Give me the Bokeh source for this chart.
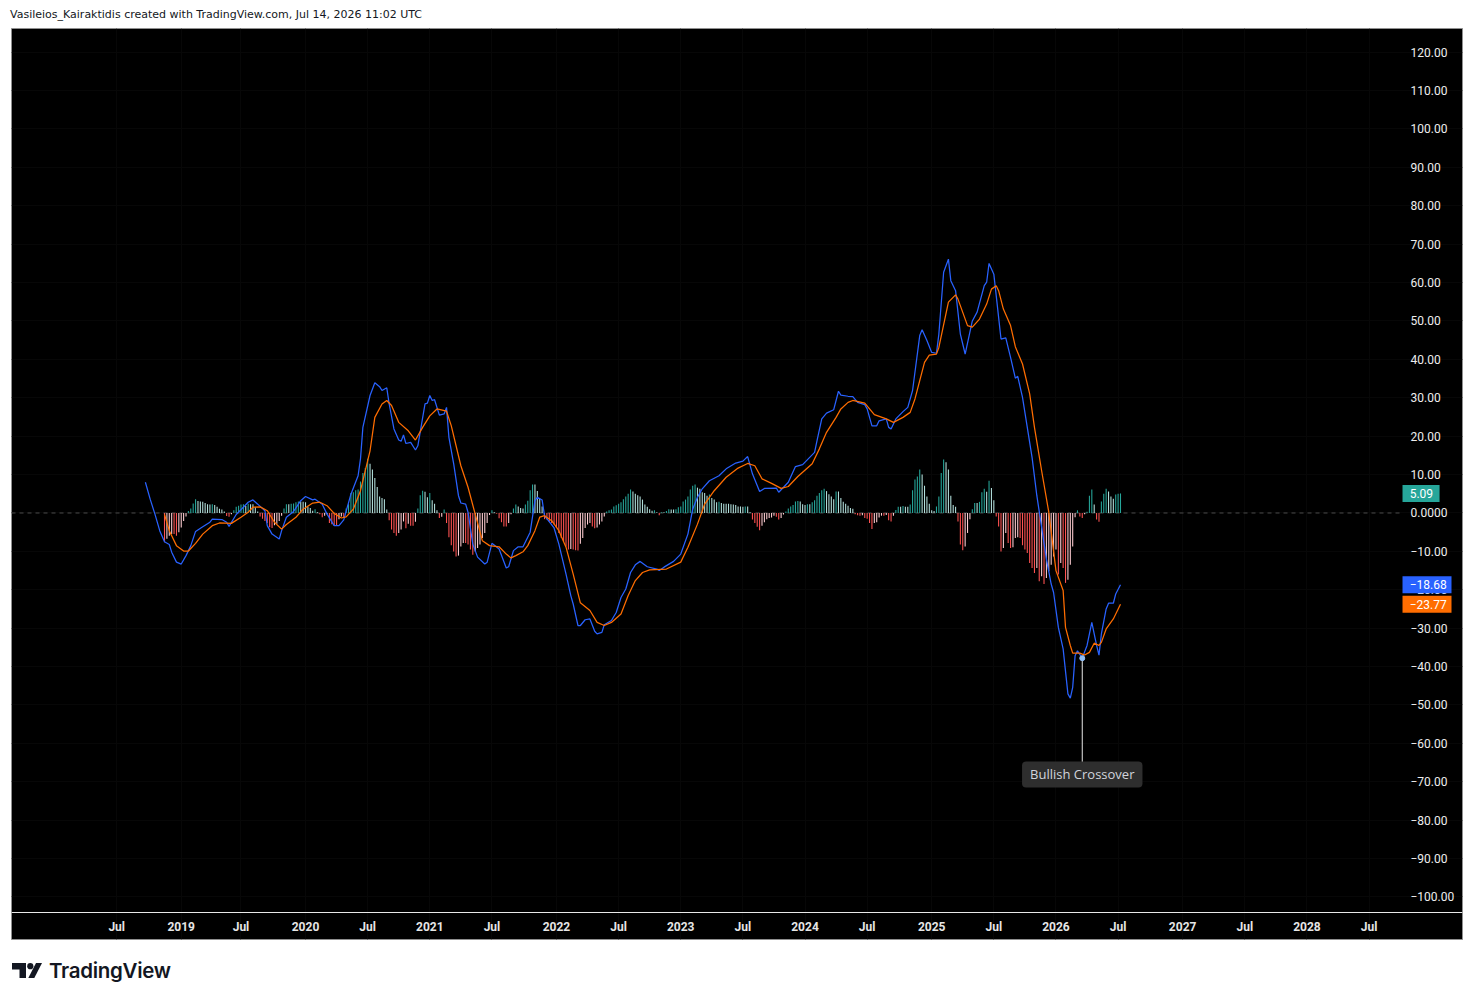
from bokeh.plotting import figure
from bokeh.embed import file_html
from bokeh.layouts import column
from bokeh.resources import INLINE
from bokeh.models import BoxAnnotation, Div, FixedTicker, Label, Range1d, Span

# weekly bars, week 0 is the first histogram bar
hist = [
    -7.6, -6.7, -5.9, -5.5, -5.5, -5.9, -5.0, -3.8, -2.1, -0.9,
    0.5, 1.2, 2.5, 3.6, 3.1, 3.0, 2.9, 2.6, 2.3, 2.2, 2.3, 2.1, 1.6, 1.1, 0.9, 0.4,
    -0.8, -1.0, -0.3, 0.7,
    1.6, 1.9, 2.2, 2.3, 1.8, 2.4, 2.3, 2.3, 1.5, 0.4,
    -0.9, -1.5, -2.1, -2.6, -3.7, -3.9, -3.2, -2.8, -2.1, -0.7,
    1.2, 2.3, 2.3, 2.4, 2.5, 2.8, 3.0, 3.0, 2.9, 2.8, 1.7, 1.3, 0.6, 1.0, 0.2,
    -0.3, -1.1, -0.7, -0.3, -2.6, -2.9, -3.3, -3.3, -1.6, -0.9, -1.2,
    1.2, 2.3, 5.2, 5.4, 5.9, 6.1, 8.2, 10.4, 11.7, 14.1, 12.8, 11.3, 9.1, 6.8, 4.3, 3.9, 3.6, 0.9,
    -1.9, -4.3, -5.2, -5.9, -5.2, -4.3, -2.2, -4.0, -2.8, -3.3, -3.3, -2.3,
    1.2, 4.6, 5.8, 5.5, 4.1, 5.2, 3.3, 2.4, 0.7,
    -1.3, -1.0, 0.9,
    -2.6, -6.3, -8.4, -10.0, -11.3, -11.1, -8.7, -7.8, -7.8, -8.2, -9.5, -10.9, -10.0, -9.1, -8.2, -6.5, -5.2, -2.6,
    -0.5, 0.7, 0.2, -0.2, -1.4, -2.4, -3.5, -3.5, -2.6, -0.3,
    1.2, 2.2, 1.7, 1.3, 1.2, 2.2, 3.2, 5.9, 7.4, 7.4, 5.7, 3.7, 1.7,
    -1.6, -1.7, -2.2, -2.6, -3.0, -3.9, -5.2, -6.5, -7.4, -8.7, -9.5, -9.4, -9.5, -9.7, -9.8, -8.0, -6.5, -3.9, -3.0,
    -2.6, -3.5, -4.0, -3.8, -3.0, -2.2, -0.9,
    0.4, 0.7, 0.9, 1.7, 2.0, 2.4, 2.8, 3.6, 4.3, 5.0, 6.1, 5.6, 5.0, 4.6, 4.3, 3.5, 2.2, 1.6, 1.0, 0.6, 0.7, 0.2,
    -0.6,
    0.2, 0.2, 0.5, 1.0, 0.9, 0.9, 1.0, 1.5, 1.7, 3.0, 3.5, 4.3,
    6.1, 7.1, 7.4, 6.6, 6.3, 5.4, 5.2, 4.5, 4.8, 3.9,
    3.5, 2.8, 2.9, 2.6, 2.4, 2.4, 2.4, 2.3, 2.2, 2.1,
    1.7, 1.7, 1.6, 1.7, 1.7, 0.2,
    -1.7, -2.6, -3.6, -4.5, -3.3, -2.4, -1.6, -1.3, -1.2, -0.7, -1.0, -1.7, -1.3, -0.4,
    0.4, 1.2,
    1.7, 2.1, 3.0, 3.1, 3.0, 2.3, 2.1, 2.3, 2.3, 2.8, 3.3, 4.5, 5.2, 5.9, 6.3, 5.7, 4.9, 4.3, 3.6, 5.6, 5.6, 3.9, 2.9, 2.4, 1.9, 1.3, 1.1,
    -0.3, -0.6, -0.7, -0.6, -1.3, -1.5, -2.6, -4.2, -2.6, -2.4, -1.2, -0.7, -0.7, -0.5, -1.9, -2.2, -0.7,
    0.8, 1.6, 1.6, 1.8, 1.6, 1.6, 2.2, 5.9, 8.7, 9.5, 11.3, 10.0, 7.1, 4.3, 2.4, 0.7, 0.5, 1.7, 4.3, 10.4, 13.9, 13.2, 11.3, 4.5, 2.1, 1.6,
    -2.2, -8.2, -9.7, -8.7, -5.2, -1.6,
    1.0, 2.6, 2.6, 2.9, 5.4, 6.3, 5.5, 8.4, 6.5, 3.3,
    -0.9, -3.5, -10.0, -9.1, -5.2, -7.8, -9.1, -8.9, -6.5, -6.3, -6.5,
    -8.4, -9.5, -10.4, -13.0, -14.3, -15.6, -14.3, -17.8, -16.5, -18.5, -16.9, -15.2, -13.5, -11.3, -9.5, -16.0, -13.0, -14.3, -18.2, -17.4, -13.5, -8.7, -1.1,
    0.7, -0.9, -1.3, -0.3,
    0.3, 4.5, 6.1, 2.2, -1.7, -2.3,
    3.0, 5.0, 6.3, 5.6, 4.3, 3.7, 4.8, 5.0, 5.09,
]

macd_weeks = [
    -8, -6, -4, -2, 0, 2, 3, 5, 7, 9, 11, 13, 16, 19, 20, 24, 26, 27, 30, 33, 35, 37, 39, 42, 43, 45, 48, 49, 51, 54,
    57, 59, 62, 63, 66, 68, 71, 73, 75, 78, 81, 82, 83, 86, 88, 90, 91, 93, 94, 96, 98, 99, 100, 101, 103, 105, 106,
    109, 110, 111, 112, 113, 115, 117, 118, 119, 121, 123, 124, 126, 127, 129, 131, 134, 135, 137, 140, 143, 144, 146,
    148, 150, 153, 155, 156, 158, 159, 163, 165, 167, 168, 170, 171, 173, 174, 176, 178, 180, 181, 183, 184, 187, 189,
    191, 193, 195, 197, 199, 202, 206, 207, 209, 213, 216, 219, 221, 223, 225, 228, 232, 235, 239, 242, 244, 246, 249,
    251, 256, 257, 259, 261, 264, 267, 272, 273, 275, 277, 280, 282, 283, 286, 288, 290, 293, 294, 296, 298, 299, 302,
    303, 304, 306, 309, 311, 313, 316, 317, 319, 321, 323, 324, 326, 328, 329, 331, 333, 335, 338, 340, 343, 344, 345,
    347, 348, 350, 352, 354, 356, 357, 359, 363, 365, 367, 369, 371, 372, 374, 376, 378, 379, 380, 381, 382, 384, 386,
    388, 390, 391, 392, 394, 395, 397, 398, 400,
]
macd = [
    8.0, 3.6, -0.3, -4.6, -7.5, -8.2, -10.2, -12.8, -13.3, -11.1, -8.5, -4.8, -3.6, -2.4, -1.6, -1.7, -2.4, -3.5, -0.4, 1.5, 2.8, 3.4, 2.3, 0.6, -3.3, -5.5, -6.8, -4.6, -1.1, 0.4,
    3.2, 4.3, 3.4, 3.6, 2.3, -0.3, -3.3, -3.3, -1.8, 4.9, 9.7, 14.1, 22.3, 30.6, 33.9, 32.9, 31.9, 32.6, 28.4, 21.9, 19.0, 18.7, 20.3, 18.1, 18.4, 16.4, 17.5,
    28.4, 28.6, 30.6, 29.3, 29.5, 25.5, 25.8, 27.5, 19.7, 12.8, 4.5, 2.6, 2.3, 0.2, -8.1, -11.5, -13.3, -12.8, -7.9, -9.4, -14.3, -14.0, -9.8,
    -8.8, -8.8, -5.0, 3.2, 4.1, 3.4, -0.7, -3.9, -8.1, -13.3, -15.9, -21.5, -23.7, -29.3, -29.3, -27.8, -27.6, -30.8, -31.5, -31.1, -29.1, -28.0, -25.9,
    -22.0, -19.8, -15.5, -13.5, -12.6, -14.0, -14.6, -15.0, -14.1, -12.6, -10.7, -5.5, 1.0, 4.1, 6.3, 8.4, 9.7, 11.5, 13.0, 13.5, 14.7, 10.2, 5.6,
    6.4, 6.5, 5.4, 6.7, 8.0, 12.1, 12.6, 15.8, 18.8, 24.5, 26.0, 26.9, 31.7, 30.7, 30.4, 30.3, 28.8, 28.2, 27.1, 22.7, 22.7, 24.0, 24.5,
    22.3, 21.9, 24.5, 26.4, 27.5, 31.9, 46.2, 47.7, 44.9, 41.8, 41.6, 46.6, 62.7, 66.1, 60.5, 57.9, 46.6, 41.4, 50.0, 52.3, 59.2, 60.1, 65.0,
    62.2, 56.6, 45.3, 45.6, 40.5, 35.1, 35.6, 30.1, 14.5, 4.5, -3.7, -12.0, -18.5, -20.7, -29.8, -35.4, -47.1, -48.2, -45.4, -37.2, -35.9, -37.8, -34.5,
    -28.5, -34.5, -37.0, -31.5, -25.0, -23.5, -23.5, -21.1, -18.68,
]

signal_weeks = [
    0, 2, 5, 8, 10, 13, 16, 20, 23, 28, 32, 35, 37, 40, 43, 46, 49, 51, 55, 58, 62, 65, 68, 71, 74, 76, 79, 82, 86, 88,
    91, 93, 95, 98, 102, 105, 108, 111, 114, 118, 120, 124, 127, 130, 133, 136, 140, 143, 145, 147, 150, 152, 155, 157,
    159, 162, 165, 168, 171, 174, 178, 181, 184, 187, 191, 194, 197, 200, 203, 210, 216, 219, 223, 226, 230, 235, 240,
    244, 247, 250, 254, 258, 261, 265, 271, 274, 277, 281, 283, 286, 288, 293, 297, 302, 305, 309, 312, 314, 318, 320,
    323, 324, 328, 331, 332, 336, 338, 341, 344, 346, 348, 349, 351, 354, 356, 359, 362, 364, 367, 370, 373, 376, 377,
    379, 380, 383, 385, 387, 389, 391, 392, 394, 397, 400,
]
signal = [
    -0.4, -4.6, -8.5, -9.9, -9.9, -7.9, -5.5, -3.3, -2.6, -2.7, -1.1, 0.2, 1.5, 1.6, 0.6, -2.4, -4.2, -3.0, -1.1, 1.0, 2.6, 2.8, 1.9, -0.1, -1.3, -1.0, 1.0, 5.8, 16.2, 24.9,
    28.4, 29.3, 28.0, 23.6, 21.4, 19.0, 22.3, 25.3, 27.1, 26.5, 22.7, 12.3, 6.7, -0.3, -7.2, -8.5, -8.8, -10.7, -11.7, -11.1, -10.1, -8.5, -4.6, -1.1,
    -0.7, -2.0, -4.6, -8.9, -15.9, -23.4, -25.4, -28.5, -29.3, -28.5, -26.3, -21.5, -17.6, -15.5, -14.8, -14.6, -12.8, -8.9, -2.9, 2.3, 5.8, 9.3, 11.7,
    12.9, 12.3, 8.9, 7.7, 6.4, 6.9, 9.5, 12.8, 16.7, 21.0, 24.9, 27.1, 28.8, 29.3, 28.6, 25.6, 24.5, 23.6, 24.9, 26.2, 29.7, 39.2, 41.1,
    41.4, 43.1, 54.9, 56.8, 55.7, 48.8, 48.4, 50.5, 54.4, 58.3, 59.2, 57.9, 53.1, 48.8, 43.3, 38.8, 31.0, 22.3, 11.0, 0.2, -15.0, -20.2, -29.8,
    -34.5, -36.5, -36.5, -37.0, -36.3, -33.9, -34.5, -33.7, -30.2, -27.6, -23.77,
]

x_ticks = [-20, 7, 32, 59, 85, 111, 137, 164, 190, 216, 242, 268, 294, 321, 347, 373, 399, 426, 452, 478, 504]
x_labels = ["Jul", "2019", "Jul", "2020", "Jul", "2021", "Jul", "2022", "Jul", "2023", "Jul", "2024", "Jul",
            "2025", "Jul", "2026", "Jul", "2027", "Jul", "2028", "Jul"]
y_ticks = [120, 110, 100, 90, 80, 70, 60, 50, 40, 30, 20, 10, 0, -10, -20, -30, -40, -50, -60, -70, -80, -90, -100]
y_labels = ["120.00", "110.00", "100.00", "90.00", "80.00", "70.00", "60.00", "50.00", "40.00", "30.00", "20.00",
            "10.00", "0.0000", "\u221210.00", "\u221220.00", "\u221230.00", "\u221240.00", "\u221250.00", "\u221260.00",
            "\u221270.00", "\u221280.00", "\u221290.00", "\u2212100.00"]

cross_week = 384
cross_value = -37.8

# the frame is the whole black panel, the price and time scales sit inside it
scale_x = 518.0
time_y = -104.04
p = figure(width=1453, height=913, output_backend="svg", toolbar_location=None,
           x_range=Range1d(-64.02, 543.1), y_range=Range1d(-111.07, 126.17),
           y_axis_location="right", min_border=1, margin=(0, 0, 0, 10))
p.outline_line_color = "#8f8f8f"
p.background_fill_color = "#000000"
p.border_fill_color = "#ffffff"

p.xgrid.grid_line_color = "#070707"
p.ygrid.grid_line_color = "#070707"
p.xgrid.ticker = FixedTicker(ticks=x_ticks)
p.ygrid.ticker = FixedTicker(ticks=y_ticks)
p.xgrid.bounds = (time_y, 126.17)
p.ygrid.bounds = (-64.02, scale_x)

p.xaxis.fixed_location = time_y
p.xaxis.ticker = FixedTicker(ticks=x_ticks)
p.xaxis.major_label_overrides = dict(zip(x_ticks, x_labels))
p.xaxis.axis_line_color = None
p.xaxis.major_tick_line_color = None
p.xaxis.minor_tick_line_color = None
p.xaxis.major_label_text_color = "#e6e6e6"
p.xaxis.major_label_text_font = "Roboto"
p.xaxis.major_label_text_font_size = "12px"
p.xaxis.major_label_text_font_style = "bold"
p.xaxis.major_label_standoff = 1

p.yaxis.fixed_location = scale_x
p.yaxis.ticker = FixedTicker(ticks=y_ticks)
p.yaxis.major_label_overrides = dict(zip(y_ticks, y_labels))
p.yaxis.axis_line_color = None
p.yaxis.major_tick_line_color = None
p.yaxis.minor_tick_line_color = None
p.yaxis.major_label_text_color = "#eeeeee"
p.yaxis.major_label_text_font = "Roboto"
p.yaxis.major_label_text_font_size = "12px"
p.yaxis.major_label_standoff = 2

p.add_layout(Span(location=time_y, dimension="width", line_color="#e8e8e8", line_width=1))
p.segment([-64.02], [0], [scale_x], [0], line_color="#4a4a4a", line_dash="4 4", line_width=1)

# histogram colour depends on direction against the previous bar
weeks = list(range(len(hist)))
colors = []
for i, h in enumerate(hist):
    prev = hist[i - 1] if i else h
    if h >= 0:
        colors.append("#26a69a" if h > prev else "#b2dfdb")
    else:
        colors.append("#ffcdd2" if h > prev else "#ff5252")
p.vbar(x=weeks, top=hist, bottom=0, width=0.45, fill_color=colors, line_color=None)

p.line(macd_weeks, macd, line_color="#2962ff", line_width=1.25)
p.line(signal_weeks, signal, line_color="#ff6d00", line_width=1.25)

# bullish crossover marker
p.segment([cross_week], [cross_value], [cross_week], [-65.2], line_color="#e8e8e8", line_width=1)
p.scatter([cross_week], [cross_value], size=5, color="#90bdf5")
p.add_layout(Label(x=cross_week, y=-68.1, text="Bullish Crossover", text_color="#d1d4dc", text_font="Open Sans",
                   text_font_size="13px", text_align="center", text_baseline="middle",
                   background_fill_color="#2e2e2e", padding=(8, 4), border_radius=4))

# last value tags on the price scale
tags = [(hist[-1], "#26a69a", 533.5, "5.09"), (macd[-1], "#2962ff", 538.5, "\u221218.68"),
        (signal[-1], "#ff6d00", 538.5, "\u221223.77")]
for val, col, right, txt in tags:
    p.add_layout(BoxAnnotation(left=scale_x, right=right, top=val + 2.2, bottom=val - 2.2,
                               fill_color=col, fill_alpha=1, line_color=None))
    p.add_layout(Label(x=521.0, y=val, text=txt, text_color="#ffffff", text_font="Roboto",
                       text_font_size="12px", text_baseline="middle"))

header = Div(text="Vasileios_Kairaktidis created with TradingView.com, Jul 14, 2026 11:02 UTC",
             width=700, height=27, margin=(0, 0, 0, 10),
             styles={"font-family": "DejaVu Sans", "font-size": "11px", "line-height": "29px", "color": "#131722"})
logo_svg = ('<svg width="34" height="16" viewBox="0 0 34 16" style="display:block;margin-right:3px">'
            '<path fill="#131722" d="M0 0H14V15H7.5V6.5H0Z"/><circle cx="18.3" cy="3.2" r="3.1" fill="#131722"/>'
            '<path fill="#131722" d="M24 0H30L22.3 15H16.3Z"/></svg>')
footer = Div(text='<div style="display:flex;align-items:center">' + logo_svg +
             '<span style="font-family:Inter;font-weight:600;font-size:20.5px;color:#131722;letter-spacing:-0.3px">TradingView</span></div>',
             width=300, height=30, margin=(16, 0, 0, 12))

page = column(header, p, footer, spacing=0)
open("out.html", "w").write(file_html(page, INLINE))
